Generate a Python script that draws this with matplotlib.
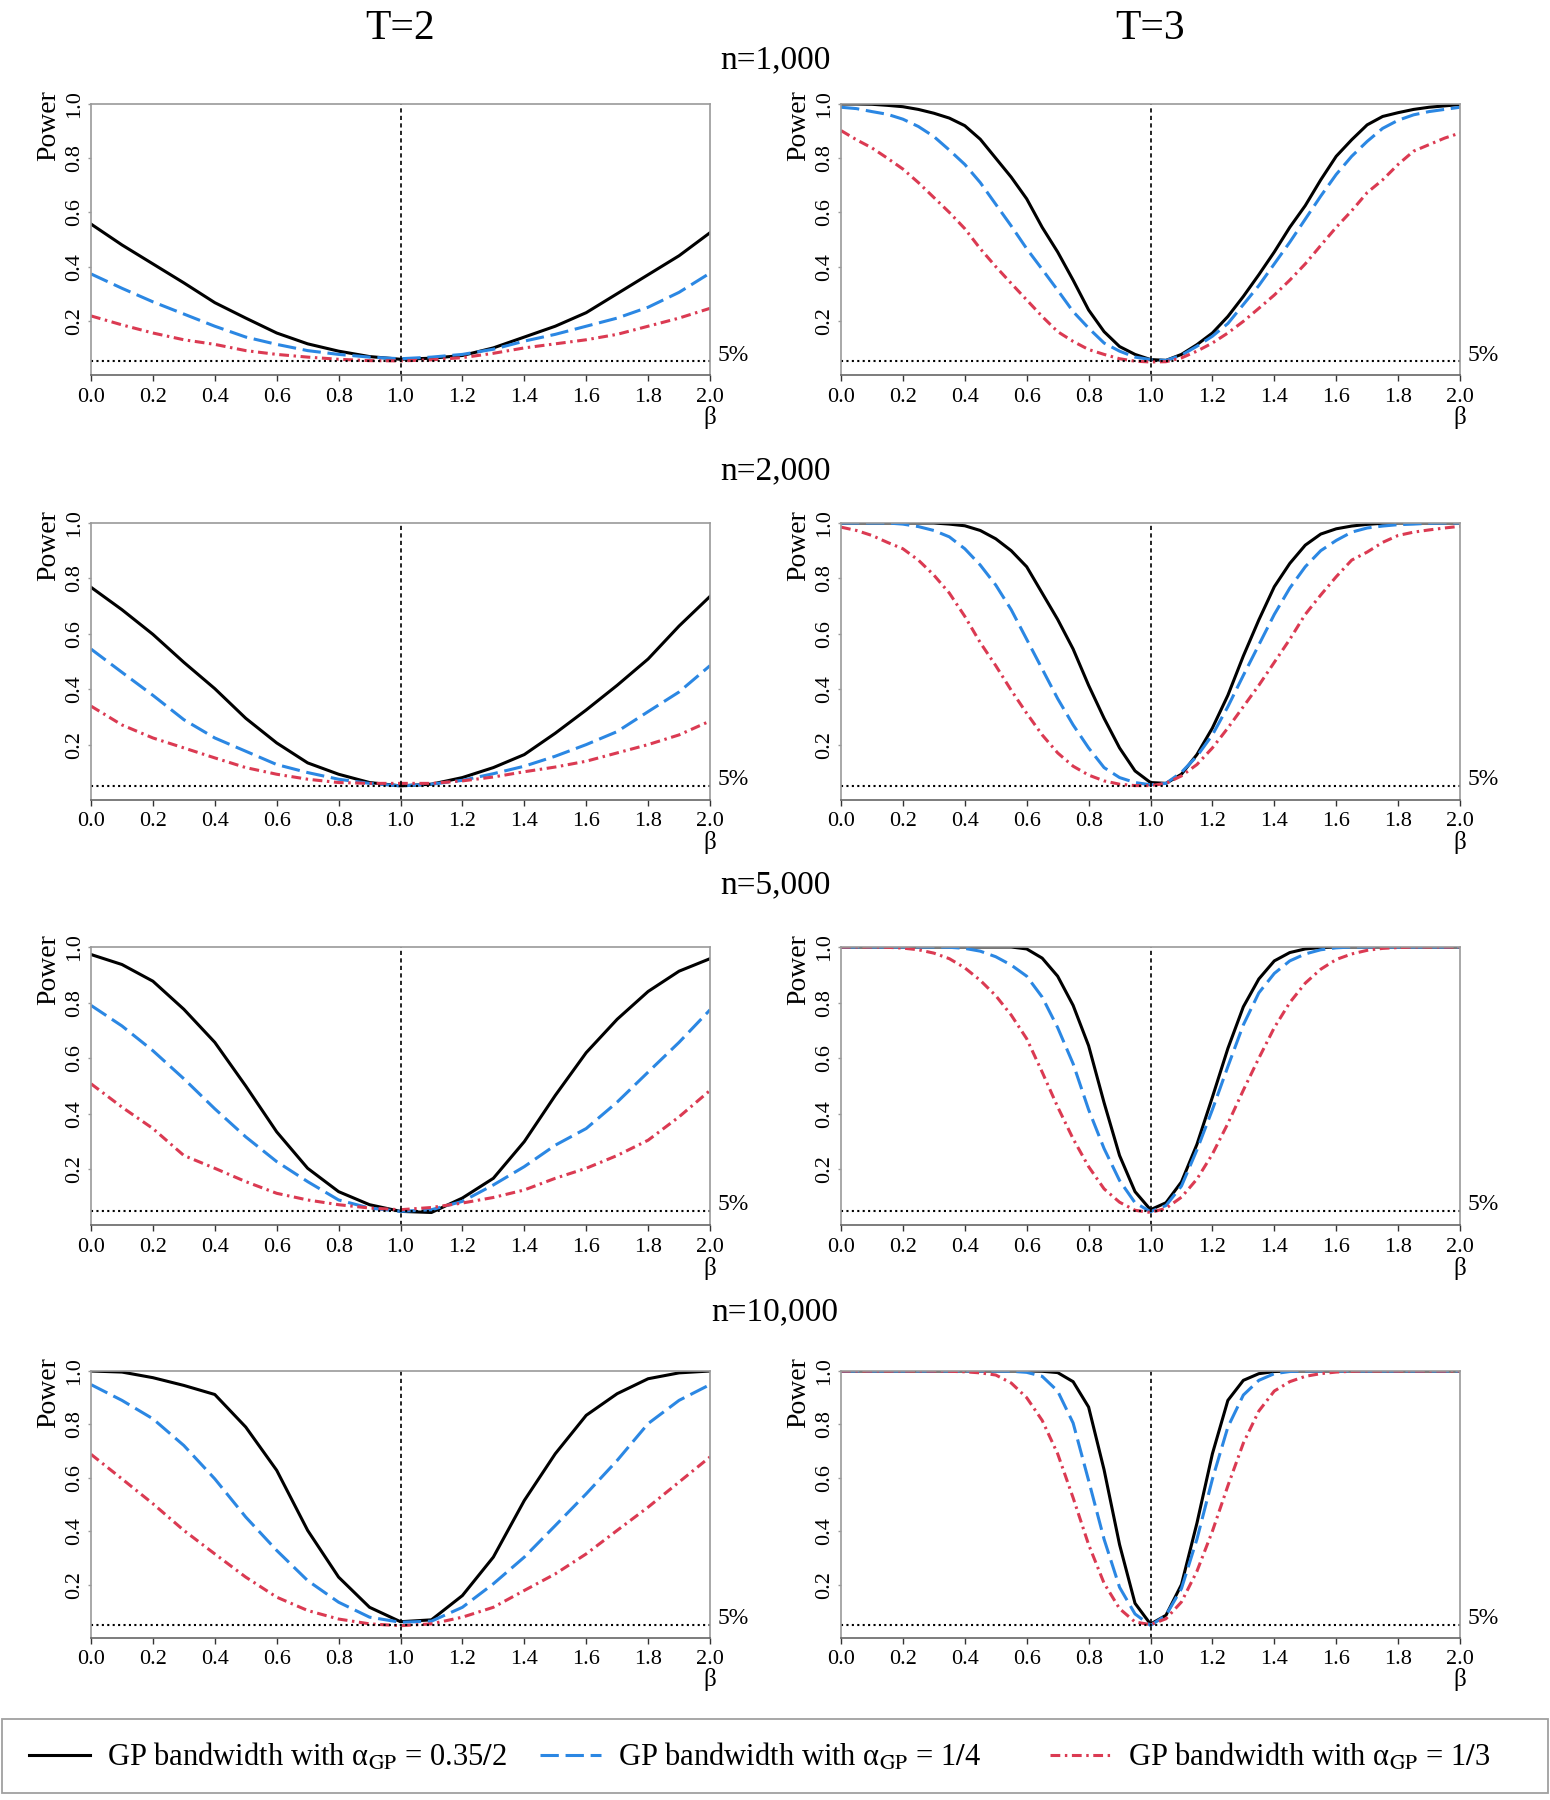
import matplotlib
matplotlib.use("Agg")
import matplotlib.pyplot as plt
import matplotlib.transforms as mtransforms
from matplotlib.lines import Line2D
from matplotlib.patches import Rectangle

plt.rcParams['font.family'] = ['Liberation Serif', 'DejaVu Serif']
plt.rcParams['mathtext.fontset'] = 'stix'

# beta grids
beta_t2 = [0.0, 0.1, 0.2, 0.3, 0.4, 0.5, 0.6, 0.7, 0.8, 0.9, 1.0,
           1.1, 1.2, 1.3, 1.4, 1.5, 1.6, 1.7, 1.8, 1.9, 2.0]
beta_t3 = [0.0, 0.05, 0.1, 0.15, 0.2, 0.25, 0.3, 0.35, 0.4, 0.45,
           0.5, 0.55, 0.6, 0.65, 0.7, 0.75, 0.8, 0.85, 0.9, 0.95,
           1.0, 1.05, 1.1, 1.15, 1.2, 1.25, 1.3, 1.35, 1.4, 1.45,
           1.5, 1.55, 1.6, 1.65, 1.7, 1.75, 1.8, 1.85, 1.9, 1.95, 2.0]

sample_sizes = ["n=1,000", "n=2,000", "n=5,000", "n=10,000"]
labels = [r"GP bandwidth with α$_{\mathrm{GP}}$ = 0.35$/$2",
          r"GP bandwidth with α$_{\mathrm{GP}}$ = 1$/$4",
          r"GP bandwidth with α$_{\mathrm{GP}}$ = 1$/$3"]

# T=2, power curves (a: 0.35/2, b: 1/4, c: 1/3)
t2_1000_a = [0.557, 0.48, 0.41, 0.34, 0.267, 0.21, 0.155, 0.115, 0.088, 0.068, 0.058,
             0.062, 0.072, 0.10, 0.14, 0.18, 0.23, 0.30, 0.37, 0.44, 0.525]
t2_1000_b = [0.373, 0.32, 0.27, 0.225, 0.18, 0.14, 0.113, 0.09, 0.076, 0.066, 0.06,
             0.066, 0.076, 0.095, 0.125, 0.15, 0.18, 0.21, 0.25, 0.305, 0.376]
t2_1000_c = [0.218, 0.185, 0.155, 0.13, 0.113, 0.09, 0.076, 0.066, 0.058, 0.053, 0.052,
             0.056, 0.064, 0.08, 0.10, 0.115, 0.13, 0.15, 0.18, 0.21, 0.246]

t2_2000_a = [0.768, 0.687, 0.598, 0.497, 0.402, 0.295, 0.206, 0.134, 0.093, 0.063, 0.051,
             0.057, 0.081, 0.117, 0.164, 0.241, 0.325, 0.414, 0.509, 0.628, 0.735]
t2_2000_b = [0.545, 0.461, 0.378, 0.29, 0.224, 0.176, 0.128, 0.099, 0.075, 0.06, 0.051,
             0.057, 0.071, 0.095, 0.122, 0.158, 0.20, 0.247, 0.319, 0.39, 0.485]
t2_2000_c = [0.339, 0.271, 0.224, 0.188, 0.152, 0.117, 0.093, 0.075, 0.063, 0.06, 0.06,
             0.06, 0.069, 0.083, 0.102, 0.119, 0.14, 0.17, 0.20, 0.235, 0.285]

t2_5000_a = [0.973, 0.937, 0.877, 0.776, 0.657, 0.50, 0.335, 0.204, 0.12, 0.073, 0.049,
             0.045, 0.097, 0.168, 0.30, 0.466, 0.62, 0.74, 0.84, 0.913, 0.958]
t2_5000_b = [0.79, 0.716, 0.627, 0.526, 0.418, 0.317, 0.228, 0.156, 0.09, 0.061, 0.049,
             0.055, 0.085, 0.144, 0.21, 0.287, 0.347, 0.442, 0.55, 0.657, 0.774]
t2_5000_c = [0.508, 0.424, 0.347, 0.25, 0.204, 0.156, 0.114, 0.09, 0.073, 0.061, 0.055,
             0.063, 0.079, 0.099, 0.126, 0.168, 0.204, 0.25, 0.305, 0.389, 0.484]

t2_10000_a = [1.0, 0.996, 0.975, 0.946, 0.912, 0.79, 0.628, 0.403, 0.228, 0.115, 0.061,
              0.068, 0.159, 0.303, 0.515, 0.69, 0.834, 0.915, 0.971, 0.993, 1.0]
t2_10000_b = [0.949, 0.89, 0.821, 0.721, 0.596, 0.453, 0.328, 0.215, 0.134, 0.078, 0.059,
              0.063, 0.115, 0.203, 0.303, 0.421, 0.54, 0.665, 0.803, 0.89, 0.949]
t2_10000_c = [0.688, 0.596, 0.503, 0.403, 0.315, 0.228, 0.153, 0.103, 0.071, 0.053, 0.046,
              0.053, 0.078, 0.115, 0.178, 0.24, 0.315, 0.403, 0.49, 0.584, 0.678]

# T=3, power curves
t3_1000_a = [1.0, 1.0, 0.999, 0.995, 0.99, 0.98, 0.966, 0.948, 0.92, 0.87,
             0.80, 0.73, 0.65, 0.545, 0.454, 0.35, 0.24, 0.16, 0.105, 0.076,
             0.057, 0.054, 0.076, 0.112, 0.155, 0.216, 0.29, 0.37, 0.454, 0.545,
             0.625, 0.72, 0.807, 0.868, 0.923, 0.954, 0.968, 0.98, 0.988, 0.993, 0.998]
t3_1000_b = [0.988, 0.983, 0.972, 0.962, 0.944, 0.917, 0.88, 0.83, 0.777, 0.71,
             0.63, 0.55, 0.466, 0.39, 0.313, 0.234, 0.173, 0.118, 0.088, 0.066,
             0.057, 0.054, 0.073, 0.106, 0.143, 0.19, 0.26, 0.33, 0.41, 0.49,
             0.575, 0.66, 0.74, 0.807, 0.862, 0.91, 0.94, 0.96, 0.972, 0.98, 0.988]
t3_1000_c = [0.902, 0.868, 0.838, 0.80, 0.76, 0.71, 0.655, 0.60, 0.54, 0.466,
             0.40, 0.338, 0.277, 0.216, 0.16, 0.124, 0.094, 0.076, 0.06, 0.051,
             0.048, 0.049, 0.063, 0.088, 0.118, 0.155, 0.198, 0.246, 0.295, 0.35,
             0.41, 0.478, 0.545, 0.606, 0.673, 0.72, 0.777, 0.826, 0.85, 0.874, 0.893]

t3_2000_a = [1.0, 1.0, 1.0, 1.0, 1.0, 1.0, 1.0, 0.996, 0.99, 0.973,
             0.943, 0.90, 0.842, 0.747, 0.652, 0.545, 0.414, 0.295, 0.188, 0.105,
             0.063, 0.06, 0.093, 0.164, 0.26, 0.378, 0.52, 0.65, 0.77, 0.854,
             0.92, 0.96, 0.979, 0.989, 0.995, 0.999, 1.0, 1.0, 1.0, 1.0, 1.0]
t3_2000_b = [1.0, 1.0, 1.0, 1.0, 0.996, 0.987, 0.973, 0.95, 0.907, 0.848,
             0.776, 0.687, 0.58, 0.473, 0.366, 0.271, 0.188, 0.117, 0.081, 0.063,
             0.055, 0.06, 0.10, 0.158, 0.235, 0.337, 0.45, 0.56, 0.67, 0.765,
             0.842, 0.90, 0.937, 0.967, 0.982, 0.989, 0.994, 0.996, 0.999, 1.0, 1.0]
t3_2000_c = [0.985, 0.973, 0.955, 0.93, 0.907, 0.866, 0.812, 0.747, 0.663, 0.568,
             0.485, 0.396, 0.313, 0.235, 0.17, 0.122, 0.09, 0.069, 0.057, 0.052,
             0.052, 0.06, 0.087, 0.128, 0.188, 0.26, 0.337, 0.414, 0.497, 0.58,
             0.67, 0.74, 0.806, 0.866, 0.895, 0.93, 0.955, 0.967, 0.975, 0.982, 0.988]

t3_5000_a = [1.0, 1.0, 1.0, 1.0, 1.0, 1.0, 1.0, 1.0, 1.0, 1.0,
             1.0, 1.0, 0.993, 0.96, 0.895, 0.79, 0.645, 0.44, 0.25, 0.12,
             0.055, 0.08, 0.155, 0.29, 0.46, 0.635, 0.785, 0.885, 0.95, 0.98,
             0.993, 0.998, 1.0, 1.0, 1.0, 1.0, 1.0, 1.0, 1.0, 1.0, 1.0]
t3_5000_b = [1.0, 1.0, 1.0, 1.0, 1.0, 1.0, 1.0, 0.999, 0.995, 0.985,
             0.965, 0.935, 0.895, 0.82, 0.71, 0.58, 0.415, 0.275, 0.16, 0.08,
             0.048, 0.07, 0.14, 0.27, 0.415, 0.57, 0.72, 0.835, 0.905, 0.95,
             0.975, 0.99, 0.997, 1.0, 1.0, 1.0, 1.0, 1.0, 1.0, 1.0, 1.0]
t3_5000_c = [1.0, 1.0, 1.0, 0.999, 0.996, 0.99, 0.978, 0.958, 0.925, 0.88,
             0.825, 0.755, 0.67, 0.55, 0.425, 0.31, 0.21, 0.13, 0.082, 0.053,
             0.045, 0.06, 0.10, 0.165, 0.255, 0.365, 0.485, 0.60, 0.71, 0.80,
             0.87, 0.92, 0.955, 0.975, 0.988, 0.995, 0.998, 1.0, 1.0, 1.0, 1.0]

t3_10000_a = [1.0, 1.0, 1.0, 1.0, 1.0, 1.0, 1.0, 1.0, 1.0, 1.0,
              1.0, 1.0, 1.0, 0.999, 0.994, 0.96, 0.865, 0.63, 0.35, 0.13,
              0.052, 0.085, 0.20, 0.43, 0.69, 0.89, 0.965, 0.99, 0.998, 1.0,
              1.0, 1.0, 1.0, 1.0, 1.0, 1.0, 1.0, 1.0, 1.0, 1.0, 1.0]
t3_10000_b = [1.0, 1.0, 1.0, 1.0, 1.0, 1.0, 1.0, 1.0, 1.0, 1.0,
              1.0, 0.999, 0.995, 0.98, 0.925, 0.805, 0.59, 0.37, 0.19, 0.09,
              0.047, 0.085, 0.185, 0.37, 0.595, 0.79, 0.91, 0.965, 0.99, 0.998,
              1.0, 1.0, 1.0, 1.0, 1.0, 1.0, 1.0, 1.0, 1.0, 1.0, 1.0]
t3_10000_c = [1.0, 1.0, 1.0, 1.0, 1.0, 1.0, 1.0, 0.999, 0.997, 0.993,
              0.985, 0.955, 0.90, 0.815, 0.69, 0.525, 0.35, 0.205, 0.11, 0.06,
              0.05, 0.072, 0.135, 0.25, 0.40, 0.57, 0.73, 0.85, 0.925, 0.96,
              0.98, 0.99, 0.996, 0.999, 1.0, 1.0, 1.0, 1.0, 1.0, 1.0, 1.0]

t2_curves = [(t2_1000_a, t2_1000_b, t2_1000_c), (t2_2000_a, t2_2000_b, t2_2000_c),
             (t2_5000_a, t2_5000_b, t2_5000_c), (t2_10000_a, t2_10000_b, t2_10000_c)]
t3_curves = [(t3_1000_a, t3_1000_b, t3_1000_c), (t3_2000_a, t3_2000_b, t3_2000_c),
             (t3_5000_a, t3_5000_b, t3_5000_c), (t3_10000_a, t3_10000_b, t3_10000_c)]

colors = ["black", "#2B87E3", "#DB3A52"]
dashes = [None, (6.0, 2.2), (3.2, 1.5, 0.8, 1.5)]
LW = 2.2

W, H = 1550, 1800
fig = plt.figure(figsize=(15.5, 18), dpi=100)

left_x = [91, 841]
ax_w = 619
row_top = [104, 523, 947, 1371]
row_bot = [375, 800, 1225, 1638]
title_y = [60, 471, 885, 1312]


def draw_panel(ax, beta, curves):
    for vals, col, d in zip(curves, colors, dashes):
        line, = ax.plot(beta, vals, color=col, lw=LW)
        if d is not None:
            line.set_dashes(d)
    ax.axvline(1.0, color="black", lw=1.2, ls=(0, (2.5, 2.0)))
    ax.axhline(0.05, color="black", lw=1.5, ls=(0, (1, 1.6)))
    ax.set_xlim(0, 2)
    ax.set_ylim(0, 1.0)
    ax.set_xticks([0.0, 0.2, 0.4, 0.6, 0.8, 1.0, 1.2, 1.4, 1.6, 1.8, 2.0])
    ax.set_xticklabels(["0.0", "0.2", "0.4", "0.6", "0.8", "1.0",
                        "1.2", "1.4", "1.6", "1.8", "2.0"])
    ax.set_yticks([0.2, 0.4, 0.6, 0.8, 1.0])
    ax.set_yticklabels(["0.2", "0.4", "0.6", "0.8", "1.0"], rotation=90, va="center")
    ax.tick_params(axis="x", length=4, width=1, color="#333333", pad=5, labelsize=16)
    ax.tick_params(axis="y", length=2, width=1, color="#999999", pad=3, labelsize=16)
    for s in ax.spines.values():
        s.set_color("#9a9a9a")
        s.set_linewidth(1.2)
    ax.spines["bottom"].set_color("#666666")
    ax.text(-0.068, 0.92, "Power", rotation=90, ha="center", va="center",
            fontsize=20, transform=ax.transAxes)
    ax.text(1.0, -0.155, "β", ha="center", va="center", fontsize=18,
            transform=ax.transAxes)
    tr = mtransforms.blended_transform_factory(ax.transAxes, ax.transData)
    ax.text(1.013, 0.035, "5%", ha="left", va="bottom", fontsize=17, transform=tr)


for r in range(4):
    for c in range(2):
        x0 = left_x[c] / W
        y0 = 1 - row_bot[r] / H
        h = (row_bot[r] - row_top[r]) / H
        ax = fig.add_axes([x0, y0, ax_w / W, h])
        if c == 0:
            draw_panel(ax, beta_t2, t2_curves[r])
        else:
            draw_panel(ax, beta_t3, t3_curves[r])
    fig.text(0.5, 1 - title_y[r] / H, sample_sizes[r], ha="center", va="center", fontsize=24)

fig.text((91 + ax_w / 2) / W, 1 - 29 / H, "T=2", ha="center", va="center", fontsize=30)
fig.text((841 + ax_w / 2) / W, 1 - 29 / H, "T=3", ha="center", va="center", fontsize=30)

# legend box with three entries at their own positions
fig.patches.append(Rectangle((2 / W, 1 - 1793 / H), 1546 / W, 74 / H,
                             transform=fig.transFigure, fill=False,
                             edgecolor="#a0a0a0", lw=1.3))
entry_x = [29, 540, 1050]
for lab, col, d, ex in zip(labels, colors, dashes, entry_x):
    h = Line2D([0], [0], color=col, lw=LW)
    if d is not None:
        h.set_dashes(d)
    fig.legend([h], [lab], loc="center left", bbox_to_anchor=(ex / W, 1 - 1757 / H),
               frameon=False, fontsize=22, handlelength=2.0, handletextpad=0.55,
               borderpad=0, borderaxespad=0)

fig.savefig("out.png", dpi=100)
